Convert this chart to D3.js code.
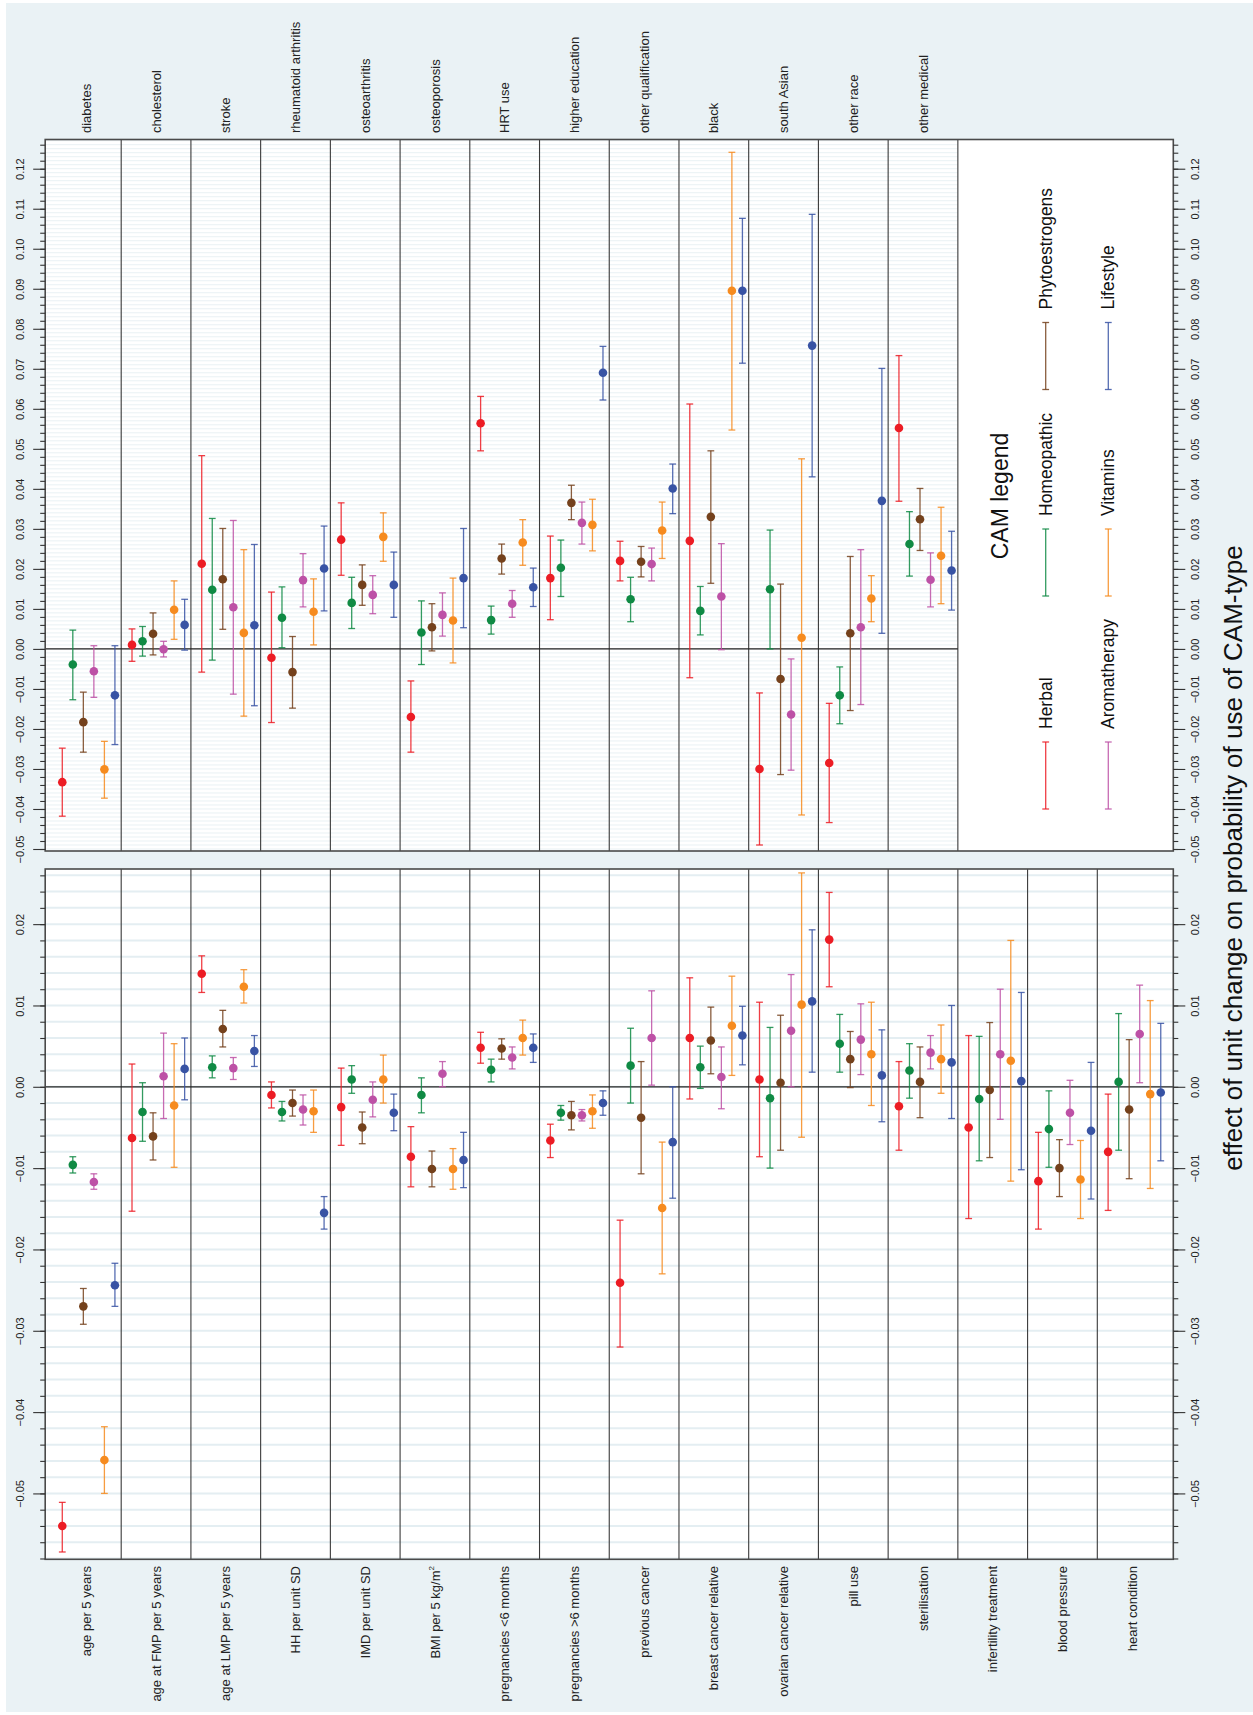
<!DOCTYPE html>
<html>
<head>
<meta charset="utf-8">
<script src="https://cdn.jsdelivr.net/npm/d3@7"></script>
<style>
  body { margin: 0; background: #fff; }
  svg { display: block; font-family: "Liberation Sans", Arial, Helvetica, sans-serif; }
</style>
</head>
<body>
<svg id="chart" width="1253" height="1715"></svg>
<script>
// CAM-type series, in plotting order inside each category
var seriesNames = ["Herbal", "Homeopathic", "Phytoestrogens", "Aromatherapy", "Vitamins", "Lifestyle"];
var seriesColors = ["#ec1c24", "#0f8a44", "#74411c", "#bd51a6", "#f68b1f", "#3853a4"];

// upper panel: binary covariates
var topCategories = ["diabetes", "cholesterol", "stroke", "rheumatoid arthritis", "osteoarthritis",
  "osteoporosis", "HRT use", "higher education", "other qualification", "black", "south Asian",
  "other race", "other medical"];

var topEst = [
  [-0.0333, -0.0039, -0.0183, -0.0056, -0.0301, -0.0116],
  [0.0010, 0.0019, 0.0038, -0.0001, 0.0098, 0.0060],
  [0.0213, 0.0148, 0.0174, 0.0104, 0.0040, 0.0059],
  [-0.0022, 0.0078, -0.0058, 0.0172, 0.0093, 0.0201],
  [0.0273, 0.0115, 0.0160, 0.0135, 0.0280, 0.0160],
  [-0.0170, 0.0041, 0.0054, 0.0085, 0.0071, 0.0177],
  [0.0564, 0.0072, 0.0226, 0.0113, 0.0266, 0.0154],
  [0.0177, 0.0203, 0.0365, 0.0315, 0.0310, 0.0690],
  [0.0220, 0.0124, 0.0218, 0.0212, 0.0296, 0.0401],
  [0.0270, 0.0095, 0.0330, 0.0131, 0.0895, 0.0895],
  [-0.0300, 0.0149, -0.0075, -0.0164, 0.0028, 0.0758],
  [-0.0285, -0.0116, 0.0039, 0.0054, 0.0126, 0.0370],
  [0.0552, 0.0262, 0.0324, 0.0173, 0.0233, 0.0196]
];
var topLo = [
  [-0.0418, -0.0127, -0.0258, -0.0121, -0.0373, -0.0239],
  [-0.0031, -0.0018, -0.0015, -0.0020, 0.0024, -0.0003],
  [-0.0058, -0.0028, 0.0049, -0.0113, -0.0168, -0.0142],
  [-0.0184, 0.0003, -0.0148, 0.0105, 0.0010, 0.0095],
  [0.0184, 0.0051, 0.0109, 0.0088, 0.0219, 0.0079],
  [-0.0258, -0.0039, -0.0005, 0.0032, -0.0035, 0.0053],
  [0.0495, 0.0037, 0.0187, 0.0079, 0.0209, 0.0106],
  [0.0073, 0.0131, 0.0323, 0.0262, 0.0245, 0.0622],
  [0.0170, 0.0068, 0.0180, 0.0170, 0.0226, 0.0338],
  [-0.0072, 0.0035, 0.0164, -0.0002, 0.0547, 0.0714],
  [-0.0490, 0.0000, -0.0314, -0.0303, -0.0415, 0.0430],
  [-0.0434, -0.0187, -0.0154, -0.0139, 0.0068, 0.0039],
  [0.0369, 0.0182, 0.0246, 0.0105, 0.0113, 0.0097]
];
var topHi = [
  [-0.0248, 0.0047, -0.0108, 0.0008, -0.0231, 0.0008],
  [0.0050, 0.0056, 0.0090, 0.0019, 0.0170, 0.0124],
  [0.0483, 0.0326, 0.0301, 0.0321, 0.0248, 0.0261],
  [0.0142, 0.0155, 0.0031, 0.0238, 0.0175, 0.0307],
  [0.0365, 0.0179, 0.0210, 0.0183, 0.0340, 0.0242],
  [-0.0080, 0.0120, 0.0113, 0.0140, 0.0177, 0.0301],
  [0.0631, 0.0107, 0.0262, 0.0146, 0.0323, 0.0202],
  [0.0282, 0.0272, 0.0409, 0.0367, 0.0374, 0.0756],
  [0.0269, 0.0179, 0.0256, 0.0252, 0.0367, 0.0462],
  [0.0612, 0.0156, 0.0495, 0.0263, 0.1241, 0.1076],
  [-0.0110, 0.0297, 0.0162, -0.0025, 0.0475, 0.1086],
  [-0.0136, -0.0045, 0.0231, 0.0248, 0.0183, 0.0701],
  [0.0733, 0.0343, 0.0401, 0.0240, 0.0354, 0.0294]
];

// lower panel: per-unit covariates ("^" marks a superscript)
var bottomCategories = ["age per 5 years", "age at FMP per 5 years", "age at LMP per 5 years",
  "HH per unit SD", "IMD per unit SD", "BMI per 5 kg/m^2", "pregnancies <6 months",
  "pregnancies >6 months", "previous cancer", "breast cancer relative", "ovarian cancer relative",
  "pill use", "sterilisation", "infertility treatment", "blood pressure", "heart condition"];

var bottomEst = [
  [-0.0540, -0.0096, -0.0270, -0.0117, -0.0459, -0.0244],
  [-0.0063, -0.0031, -0.0061, 0.0013, -0.0023, 0.0022],
  [0.0139, 0.0024, 0.0071, 0.0023, 0.0123, 0.0044],
  [-0.0010, -0.0031, -0.0020, -0.0028, -0.0030, -0.0155],
  [-0.0025, 0.0009, -0.0050, -0.0016, 0.0009, -0.0032],
  [-0.0086, -0.0010, -0.0101, 0.0016, -0.0101, -0.0090],
  [0.0048, 0.0021, 0.0047, 0.0036, 0.0060, 0.0048],
  [-0.0066, -0.0032, -0.0035, -0.0035, -0.0030, -0.0020],
  [-0.0241, 0.0026, -0.0038, 0.0060, -0.0149, -0.0068],
  [0.0060, 0.0024, 0.0057, 0.0012, 0.0075, 0.0063],
  [0.0009, -0.0014, 0.0005, 0.0069, 0.0101, 0.0105],
  [0.0181, 0.0053, 0.0034, 0.0058, 0.0040, 0.0014],
  [-0.0024, 0.0020, 0.0006, 0.0042, 0.0034, 0.0030],
  [-0.0050, -0.0015, -0.0004, 0.0040, 0.0032, 0.0007],
  [-0.0116, -0.0052, -0.0100, -0.0032, -0.0114, -0.0054],
  [-0.0080, 0.0006, -0.0028, 0.0065, -0.0009, -0.0007]
];
var bottomLo = [
  [-0.0572, -0.0106, -0.0292, -0.0126, -0.0500, -0.0270],
  [-0.0153, -0.0067, -0.0090, -0.0039, -0.0099, -0.0016],
  [0.0116, 0.0011, 0.0049, 0.0009, 0.0103, 0.0025],
  [-0.0026, -0.0042, -0.0036, -0.0047, -0.0056, -0.0175],
  [-0.0072, -0.0008, -0.0070, -0.0037, -0.0020, -0.0054],
  [-0.0123, -0.0032, -0.0123, 0.0000, -0.0126, -0.0124],
  [0.0029, 0.0006, 0.0034, 0.0022, 0.0039, 0.0030],
  [-0.0087, -0.0041, -0.0053, -0.0042, -0.0051, -0.0035],
  [-0.0320, -0.0020, -0.0107, 0.0002, -0.0230, -0.0137],
  [-0.0015, -0.0002, 0.0016, -0.0027, 0.0014, 0.0027],
  [-0.0086, -0.0100, -0.0078, 0.0000, -0.0062, 0.0018],
  [0.0123, 0.0018, -0.0001, 0.0015, -0.0023, -0.0043],
  [-0.0078, -0.0014, -0.0038, 0.0022, -0.0008, -0.0039],
  [-0.0162, -0.0091, -0.0087, -0.0040, -0.0116, -0.0102],
  [-0.0175, -0.0099, -0.0135, -0.0071, -0.0162, -0.0138],
  [-0.0152, -0.0078, -0.0113, 0.0005, -0.0125, -0.0091]
];
var bottomHi = [
  [-0.0511, -0.0086, -0.0248, -0.0107, -0.0418, -0.0217],
  [0.0028, 0.0005, -0.0032, 0.0066, 0.0053, 0.0060],
  [0.0161, 0.0038, 0.0094, 0.0036, 0.0144, 0.0063],
  [0.0006, -0.0018, -0.0004, -0.0010, -0.0004, -0.0135],
  [0.0023, 0.0026, -0.0031, 0.0006, 0.0039, -0.0009],
  [-0.0049, 0.0011, -0.0079, 0.0031, -0.0076, -0.0056],
  [0.0067, 0.0034, 0.0059, 0.0049, 0.0082, 0.0065],
  [-0.0046, -0.0023, -0.0018, -0.0028, -0.0010, -0.0005],
  [-0.0164, 0.0072, 0.0031, 0.0118, -0.0068, 0.0000],
  [0.0134, 0.0050, 0.0098, 0.0049, 0.0136, 0.0099],
  [0.0104, 0.0073, 0.0088, 0.0138, 0.0263, 0.0193],
  [0.0239, 0.0089, 0.0068, 0.0102, 0.0104, 0.0070],
  [0.0031, 0.0053, 0.0049, 0.0063, 0.0076, 0.0100],
  [0.0063, 0.0062, 0.0079, 0.0120, 0.0180, 0.0116],
  [-0.0056, -0.0005, -0.0065, 0.0008, -0.0066, 0.0030],
  [-0.0009, 0.0090, 0.0058, 0.0125, 0.0106, 0.0078]
];

var topTicks = [-0.05, -0.04, -0.03, -0.02, -0.01, 0, 0.01, 0.02, 0.03, 0.04, 0.05, 0.06,
  0.07, 0.08, 0.09, 0.10, 0.11, 0.12];
var bottomTicks = [-0.05, -0.04, -0.03, -0.02, -0.01, 0, 0.01, 0.02];

var axisTitle = "effect of unit change on probability of use of CAM-type";
var legendTitle = "CAM legend";

////////////////////////////////////////////////////////////////
// scales
////////////////////////////////////////////////////////////////

var svg = d3.select("#chart");
var fmt = d3.format(".2f");

// one x scale shared by both panels, one unit per category column
var x = d3.scaleLinear().domain([-0.09, 16.09]).range([45.2, 1173.3]);
var yTop = d3.scaleLinear().domain([-0.0505, 0.1273]).range([851, 139.5]);
var yBot = d3.scaleLinear().domain([-0.0581, 0.02678]).range([1559.3, 869]);

svg.append("rect")
   .attr("x", 6).attr("y", 3)
   .attr("width", 1253 - 6).attr("height", 1709)
   .attr("fill", "#eaf2f5");

function multiples(y, step) {
  var d = y.domain();
  return d3.range(Math.ceil(d[0] / step - 1e-6), Math.floor(d[1] / step + 1e-6) + 1)
           .map(function (i) { return +(i * step).toFixed(4); });
}

function drawPanel(y, cats, est, lo, hi, opt) {
  var g = svg.append("g");
  var x0 = x.range()[0], x1 = x.range()[1];
  var y0 = y.range()[1], y1 = y.range()[0];

  g.append("rect")
   .attr("x", x0).attr("y", y0)
   .attr("width", x1 - x0).attr("height", y1 - y0)
   .attr("fill", "#fff");

  // faint horizontal grid
  g.append("g").selectAll("line")
   .data(multiples(y, opt.gridStep))
   .join("line")
   .attr("x1", x0).attr("x2", x(opt.gridEnd))
   .attr("y1", function (d) { return y(d); })
   .attr("y2", function (d) { return y(d); })
   .attr("stroke", opt.gridColor)
   .attr("stroke-width", opt.gridWidth);

  // column separators
  g.append("g").selectAll("line")
   .data(d3.range(1, opt.sepCount + 1))
   .join("line")
   .attr("x1", function (d) { return x(d); })
   .attr("x2", function (d) { return x(d); })
   .attr("y1", y0).attr("y2", y1)
   .attr("stroke", "#3a3a3a")
   .attr("stroke-width", 1.1);

  g.append("line")
   .attr("x1", x0).attr("x2", x(opt.gridEnd))
   .attr("y1", y(0)).attr("y2", y(0))
   .attr("stroke", "#222")
   .attr("stroke-width", 1.2);

  // error bars and estimates
  var rows = [];
  cats.forEach(function (c, k) {
    seriesNames.forEach(function (s, j) {
      rows.push({ k: k, j: j, est: est[k][j], lo: lo[k][j], hi: hi[k][j] });
    });
  });

  var bars = g.append("g").selectAll("g")
   .data(rows)
   .join("g")
   .attr("transform", function (d) {
     return "translate(" + x(d.k + 0.155 + 0.151 * d.j) + ",0)";
   })
   .attr("stroke", function (d) { return seriesColors[d.j]; })
   .attr("stroke-width", 1.3)
   .attr("stroke-opacity", 0.85);

  bars.append("line")
      .attr("y1", function (d) { return y(d.lo); })
      .attr("y2", function (d) { return y(d.hi); });
  bars.append("line")
      .attr("x1", -3.4).attr("x2", 3.4)
      .attr("y1", function (d) { return y(d.lo); })
      .attr("y2", function (d) { return y(d.lo); });
  bars.append("line")
      .attr("x1", -3.4).attr("x2", 3.4)
      .attr("y1", function (d) { return y(d.hi); })
      .attr("y2", function (d) { return y(d.hi); });
  bars.append("circle")
      .attr("cy", function (d) { return y(d.est); })
      .attr("r", 4.3)
      .attr("stroke", "none")
      .attr("fill", function (d) { return seriesColors[d.j]; });

  g.append("rect")
   .attr("x", x0).attr("y", y0)
   .attr("width", x1 - x0).attr("height", y1 - y0)
   .attr("fill", "none")
   .attr("stroke", "#4a4a4a")
   .attr("stroke-width", 1.6);

  // axes on both sides, labels turned to read upwards
  var minor = multiples(y, 0.002);
  [["left", d3.axisLeft, x0, -25], ["right", d3.axisRight, x1, 22]].forEach(function (a) {
    var ga = g.append("g").attr("transform", "translate(" + a[2] + ",0)");
    ga.append("g")
      .call(a[1](y).tickValues(minor).tickSize(5).tickSizeOuter(0).tickFormat(""))
      .call(function (s) { s.select(".domain").remove(); });
    ga.append("g")
      .call(a[1](y).tickValues(opt.ticks).tickSize(12).tickSizeOuter(0).tickFormat(fmt))
      .call(function (s) { s.select(".domain").remove(); })
      .selectAll("text")
      .attr("x", 0).attr("y", a[3]).attr("dy", "0.35em")
      .attr("transform", "rotate(-90)")
      .attr("text-anchor", "middle")
      .attr("font-size", 11)
      .attr("font-family", "Liberation Sans, Arial, sans-serif")
      .attr("fill", "#222");
    ga.selectAll(".tick line").attr("stroke", "#333").attr("stroke-width", 1.1);
  });

  // category labels
  var lab = g.append("g").selectAll("text")
   .data(cats)
   .join("text")
   .attr("transform", function (d, k) {
     return "translate(" + x(k + 0.5) + "," + opt.labelY + ") rotate(-90)";
   })
   .attr("dy", "0.35em")
   .attr("text-anchor", opt.labelAnchor)
   .attr("font-size", 13)
   .attr("fill", "#222");
  lab.each(function (d) {
    var parts = d.split("^");
    var t = d3.select(this);
    t.append("tspan").text(parts[0]);
    if (parts.length > 1) {
      t.append("tspan").attr("font-size", 8).attr("dy", "-0.7em").text(parts[1]);
    }
  });
}

drawPanel(yTop, topCategories, topEst, topLo, topHi, {
  gridStep: 0.001, gridWidth: 1, gridColor: "#e9f1f4", gridEnd: 13, sepCount: 13,
  ticks: topTicks, labelY: 133, labelAnchor: "start"
});

drawPanel(yBot, bottomCategories, bottomEst, bottomLo, bottomHi, {
  gridStep: 0.002, gridWidth: 2, gridColor: "#e4eef2", gridEnd: 16.09, sepCount: 15,
  ticks: bottomTicks, labelY: 1566, labelAnchor: "end"
});

////////////////////////////////////////////////////////////////
// legend in the empty part of the upper panel
////////////////////////////////////////////////////////////////

var legend = svg.append("g");

legend.append("text")
      .attr("transform", "translate(1000,496) rotate(-90)")
      .attr("dy", "0.35em")
      .attr("text-anchor", "middle")
      .attr("font-size", 23)
      .attr("fill", "#111")
      .text(legendTitle);

var legendCols = [1045.7, 1108.3];
var legendRows = [742, 529, 322.5];

var item = legend.selectAll("g.item")
  .data(seriesNames)
  .join("g")
  .attr("class", "item")
  .attr("transform", function (d, i) {
    return "translate(" + legendCols[Math.floor(i / 3)] + "," + legendRows[i % 3] + ")";
  });

item.append("line")
    .attr("y1", 0).attr("y2", 67)
    .attr("stroke", function (d, i) { return seriesColors[i]; });
item.append("line")
    .attr("x1", -3.4).attr("x2", 3.4)
    .attr("stroke", function (d, i) { return seriesColors[i]; });
item.append("line")
    .attr("x1", -3.4).attr("x2", 3.4)
    .attr("y1", 67).attr("y2", 67)
    .attr("stroke", function (d, i) { return seriesColors[i]; });
item.selectAll("line")
    .attr("stroke-width", 1.3)
    .attr("stroke-opacity", 0.85);
item.append("text")
    .attr("transform", "translate(0,-13) rotate(-90)")
    .attr("dy", "0.35em")
    .attr("text-anchor", "start")
    .attr("font-size", 17.5)
    .attr("fill", "#111")
    .text(function (d) { return d; });

svg.append("text")
   .attr("transform", "translate(1233,858) rotate(-90)")
   .attr("dy", "0.35em")
   .attr("text-anchor", "middle")
   .attr("font-size", 26)
   .attr("fill", "#111")
   .text(axisTitle);
</script>
</body>
</html>
